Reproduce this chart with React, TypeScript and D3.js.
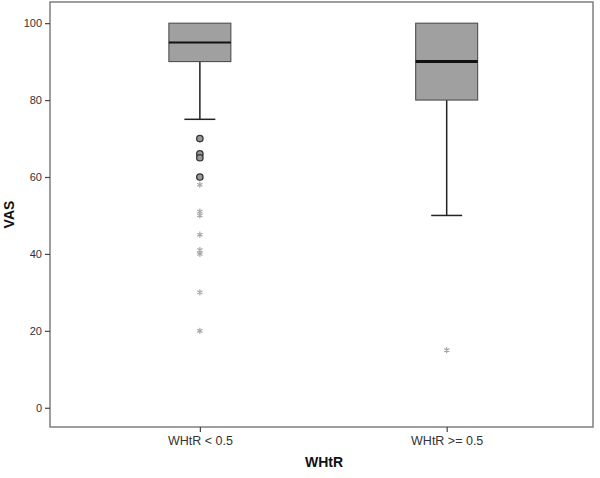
import React, { useEffect, useRef } from 'react'
import * as d3 from 'd3'

const groups = ['WHtR < 0.5', 'WHtR >= 0.5']
const lowerWhisker = [75, 50]
const q1 = [90, 80]
const median = [95, 90]
const q3 = [100, 100]
const upperWhisker = [100, 100]
const circleOutliers = [[70, 66, 65, 60], []]
const starOutliers = [[58, 51, 50, 45, 41, 40, 30, 20], [15]]
const yTicks = [0, 20, 40, 60, 80, 100]

export default function App() {
  const ref = useRef<SVGSVGElement>(null)
  const width = 600
  const height = 478
  const margin = { top: 2, right: 7, bottom: 51, left: 50 }

  useEffect(() => {
    const svg = d3.select(ref.current)
    svg.selectAll('*').remove()

    const x = d3.scalePoint().domain(groups)
      .range([margin.left, width - margin.right]).padding(0.6).align(0.506)
    const y = d3.scaleLinear().domain([-5, 105.5])
      .range([height - margin.bottom, margin.top])

    const boxW = 62
    const font = 'Arial, "Liberation Sans", sans-serif'

    // frame
    svg.append('rect')
      .attr('x', margin.left).attr('y', margin.top)
      .attr('width', width - margin.left - margin.right)
      .attr('height', height - margin.top - margin.bottom)
      .attr('fill', 'none').attr('stroke', '#7f7f7f').attr('stroke-width', 1.5)

    // y axis
    const yAxis = svg.append('g')
      .attr('transform', `translate(${margin.left},0)`)
      .call(d3.axisLeft(y).tickValues(yTicks).tickSize(5).tickPadding(3))
    yAxis.select('.domain').remove()
    yAxis.selectAll('line').attr('stroke', '#444').attr('stroke-width', 1.2)
    yAxis.selectAll('text').attr('font-family', font).attr('font-size', 11).attr('fill', '#333')

    // x axis
    const xAxis = svg.append('g')
      .attr('transform', `translate(0,${height - margin.bottom})`)
      .call(d3.axisBottom(x).tickSize(5).tickPadding(4))
    xAxis.select('.domain').remove()
    xAxis.selectAll('line').attr('stroke', '#444').attr('stroke-width', 1.2)
    xAxis.selectAll('text').attr('font-family', font).attr('font-size', 12.5).attr('fill', '#333')

    groups.forEach((g, i) => {
      const cx = x(g) as number
      const gr = svg.append('g')
      // whiskers
      gr.append('line').attr('x1', cx).attr('x2', cx)
        .attr('y1', y(q1[i])).attr('y2', y(lowerWhisker[i]))
        .attr('stroke', '#222').attr('stroke-width', 1.5)
      gr.append('line').attr('x1', cx).attr('x2', cx)
        .attr('y1', y(q3[i])).attr('y2', y(upperWhisker[i]))
        .attr('stroke', '#222').attr('stroke-width', 1.5)
      gr.append('line').attr('x1', cx - boxW / 4).attr('x2', cx + boxW / 4)
        .attr('y1', y(lowerWhisker[i])).attr('y2', y(lowerWhisker[i]))
        .attr('stroke', '#222').attr('stroke-width', 1.5)
      // box
      gr.append('rect')
        .attr('x', cx - boxW / 2).attr('width', boxW)
        .attr('y', y(q3[i])).attr('height', y(q1[i]) - y(q3[i]))
        .attr('fill', '#a0a0a0').attr('stroke', '#444').attr('stroke-width', 1)
      gr.append('line').attr('x1', cx - boxW / 2).attr('x2', cx + boxW / 2)
        .attr('y1', y(median[i])).attr('y2', y(median[i]))
        .attr('stroke', '#111').attr('stroke-width', i === 0 ? 2 : 3)
      // outliers
      gr.selectAll('circle.o').data(circleOutliers[i]).join('circle')
        .attr('cx', cx).attr('cy', d => y(d)).attr('r', 3.2)
        .attr('fill', '#999').attr('stroke', '#333').attr('stroke-width', 1.3)
      gr.selectAll('path.s').data(starOutliers[i]).join('path')
        .attr('transform', d => `translate(${cx},${y(d)})`)
        .attr('d', d3.symbol(d3.symbolAsterisk, 26)() as string)
        .attr('fill', 'none').attr('stroke', '#a8a8a8').attr('stroke-width', 1.2)
    })

    // axis titles
    svg.append('text')
      .attr('transform', `translate(14,${(margin.top + height - margin.bottom) / 2}) rotate(-90)`)
      .attr('text-anchor', 'middle')
      .attr('font-family', font).attr('font-size', 14).attr('font-weight', 'bold')
      .attr('fill', '#111').text('VAS')
    svg.append('text')
      .attr('x', 324).attr('y', 467)
      .attr('text-anchor', 'middle')
      .attr('font-family', font).attr('font-size', 14).attr('font-weight', 'bold')
      .attr('fill', '#111').text('WHtR')
  }, [])

  return (
    <svg ref={ref} width={width} height={height}
      style={{ position: 'absolute', left: 0, top: 0, background: '#fff' }} />
  )
}
